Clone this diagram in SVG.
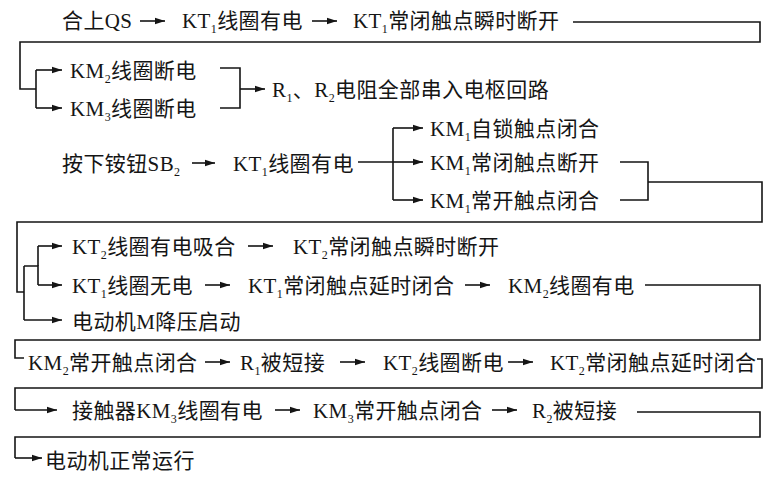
<svg xmlns="http://www.w3.org/2000/svg" width="775" height="477" viewBox="0 0 775 477">
<defs>
<style>
text{font-family:"Liberation Serif","Noto Sans CJK SC",serif;font-size:21px;letter-spacing:0.4px;fill:#151515}
.s{font-size:12px}
.c path{fill:none;stroke:#151515;stroke-width:1.6}
.c path.a{marker-end:url(#ah)}
</style>
<marker id="ah" viewBox="0 0 10 8" refX="10" refY="4" markerWidth="10" markerHeight="8" markerUnits="userSpaceOnUse" orient="auto">
<path d="M0,0.8 L10,4 L0,7.2 Z" fill="#151515"/>
</marker>
</defs>
<rect width="775" height="477" fill="#fff"/>
<g class="c" id="connectors">
<path class="a" d="M140,21 H165"/>
<path class="a" d="M312,21 H337"/>
<path d="M573,22 H760 V42 H20 V89 H36"/>
<path d="M36,70 V108"/>
<path class="a" d="M36,70 H62"/>
<path class="a" d="M36,108 H62"/>
<path d="M220,68 H240 V108 H220"/>
<path class="a" d="M240,89 H265"/>
<path class="a" d="M192,163 H215"/>
<path d="M358,162 H393"/>
<path d="M393,128 V200"/>
<path class="a" d="M393,128 H423"/>
<path class="a" d="M393,162 H423"/>
<path class="a" d="M393,200 H423"/>
<path d="M620,162 H648 V200 H620"/>
<path d="M648,182 H762 V222 H17 V292 H24"/>
<path d="M24,266 V320"/>
<path d="M24,266 H38 V285"/>
<path d="M38,266 V246"/>
<path class="a" d="M38,246 H62"/>
<path class="a" d="M38,285 H62"/>
<path class="a" d="M24,320 H62"/>
<path class="a" d="M248,246 H273"/>
<path class="a" d="M205,285 H230"/>
<path class="a" d="M465,285 H490"/>
<path d="M645,285 H760 V340 H15 V358 H24"/>
<path class="a" d="M205,362 H230"/>
<path class="a" d="M340,362 H365"/>
<path class="a" d="M508,362 H533"/>
<path d="M757,359 H762 V388 H15 V410"/>
<path class="a" d="M15,410 H57"/>
<path class="a" d="M275,410 H300"/>
<path class="a" d="M492,410 H517"/>
<path d="M637,412 H760 V437 H15 V458"/>
<path class="a" d="M15,458 H42"/>
</g>
<g id="n1"><text x="62" y="28">合上QS</text></g>
<g id="n2"><text x="182" y="28">KT<tspan class="s" dy="5">1</tspan><tspan dy="-5">线圈有电</tspan></text></g>
<g id="n3"><text x="353" y="28">KT<tspan class="s" dy="5">1</tspan><tspan dy="-5">常闭触点瞬时断开</tspan></text></g>
<g id="n4"><text x="70" y="78">KM<tspan class="s" dy="5">2</tspan><tspan dy="-5">线圈断电</tspan></text></g>
<g id="n5"><text x="70" y="116">KM<tspan class="s" dy="5">3</tspan><tspan dy="-5">线圈断电</tspan></text></g>
<g id="n6"><text x="272" y="97">R<tspan class="s" dy="5">1</tspan><tspan dy="-5">、R</tspan><tspan class="s" dy="5">2</tspan><tspan dy="-5">电阻全部串入电枢回路</tspan></text></g>
<g id="n7"><text x="62" y="171">按下铵钮SB<tspan class="s" dy="5">2</tspan></text></g>
<g id="n8"><text x="233" y="171">KT<tspan class="s" dy="5">1</tspan><tspan dy="-5">线圈有电</tspan></text></g>
<g id="n9"><text x="430" y="136">KM<tspan class="s" dy="5">1</tspan><tspan dy="-5">自锁触点闭合</tspan></text></g>
<g id="n10"><text x="430" y="170">KM<tspan class="s" dy="5">1</tspan><tspan dy="-5">常闭触点断开</tspan></text></g>
<g id="n11"><text x="430" y="208">KM<tspan class="s" dy="5">1</tspan><tspan dy="-5">常开触点闭合</tspan></text></g>
<g id="n12"><text x="72" y="254">KT<tspan class="s" dy="5">2</tspan><tspan dy="-5">线圈有电吸合</tspan></text></g>
<g id="n13"><text x="293" y="254">KT<tspan class="s" dy="5">2</tspan><tspan dy="-5">常闭触点瞬时断开</tspan></text></g>
<g id="n14"><text x="72" y="293">KT<tspan class="s" dy="5">1</tspan><tspan dy="-5">线圈无电</tspan></text></g>
<g id="n15"><text x="248" y="293">KT<tspan class="s" dy="5">1</tspan><tspan dy="-5">常闭触点延时闭合</tspan></text></g>
<g id="n16"><text x="508" y="293">KM<tspan class="s" dy="5">2</tspan><tspan dy="-5">线圈有电</tspan></text></g>
<g id="n17"><text x="72" y="329">电动机M降压启动</text></g>
<g id="n18"><text x="28" y="370">KM<tspan class="s" dy="5">2</tspan><tspan dy="-5">常开触点闭合</tspan></text></g>
<g id="n19"><text x="240" y="370">R<tspan class="s" dy="5">1</tspan><tspan dy="-5">被短接</tspan></text></g>
<g id="n20"><text x="383" y="370">KT<tspan class="s" dy="5">2</tspan><tspan dy="-5">线圈断电</tspan></text></g>
<g id="n21"><text x="550" y="370">KT<tspan class="s" dy="5">2</tspan><tspan dy="-5">常闭触点延时闭合</tspan></text></g>
<g id="n22"><text x="72" y="418">接触器KM<tspan class="s" dy="5">3</tspan><tspan dy="-5">线圈有电</tspan></text></g>
<g id="n23"><text x="313" y="418">KM<tspan class="s" dy="5">3</tspan><tspan dy="-5">常开触点闭合</tspan></text></g>
<g id="n24"><text x="532" y="418">R<tspan class="s" dy="5">2</tspan><tspan dy="-5">被短接</tspan></text></g>
<g id="n25"><text x="45" y="468">电动机正常运行</text></g>
</svg>
